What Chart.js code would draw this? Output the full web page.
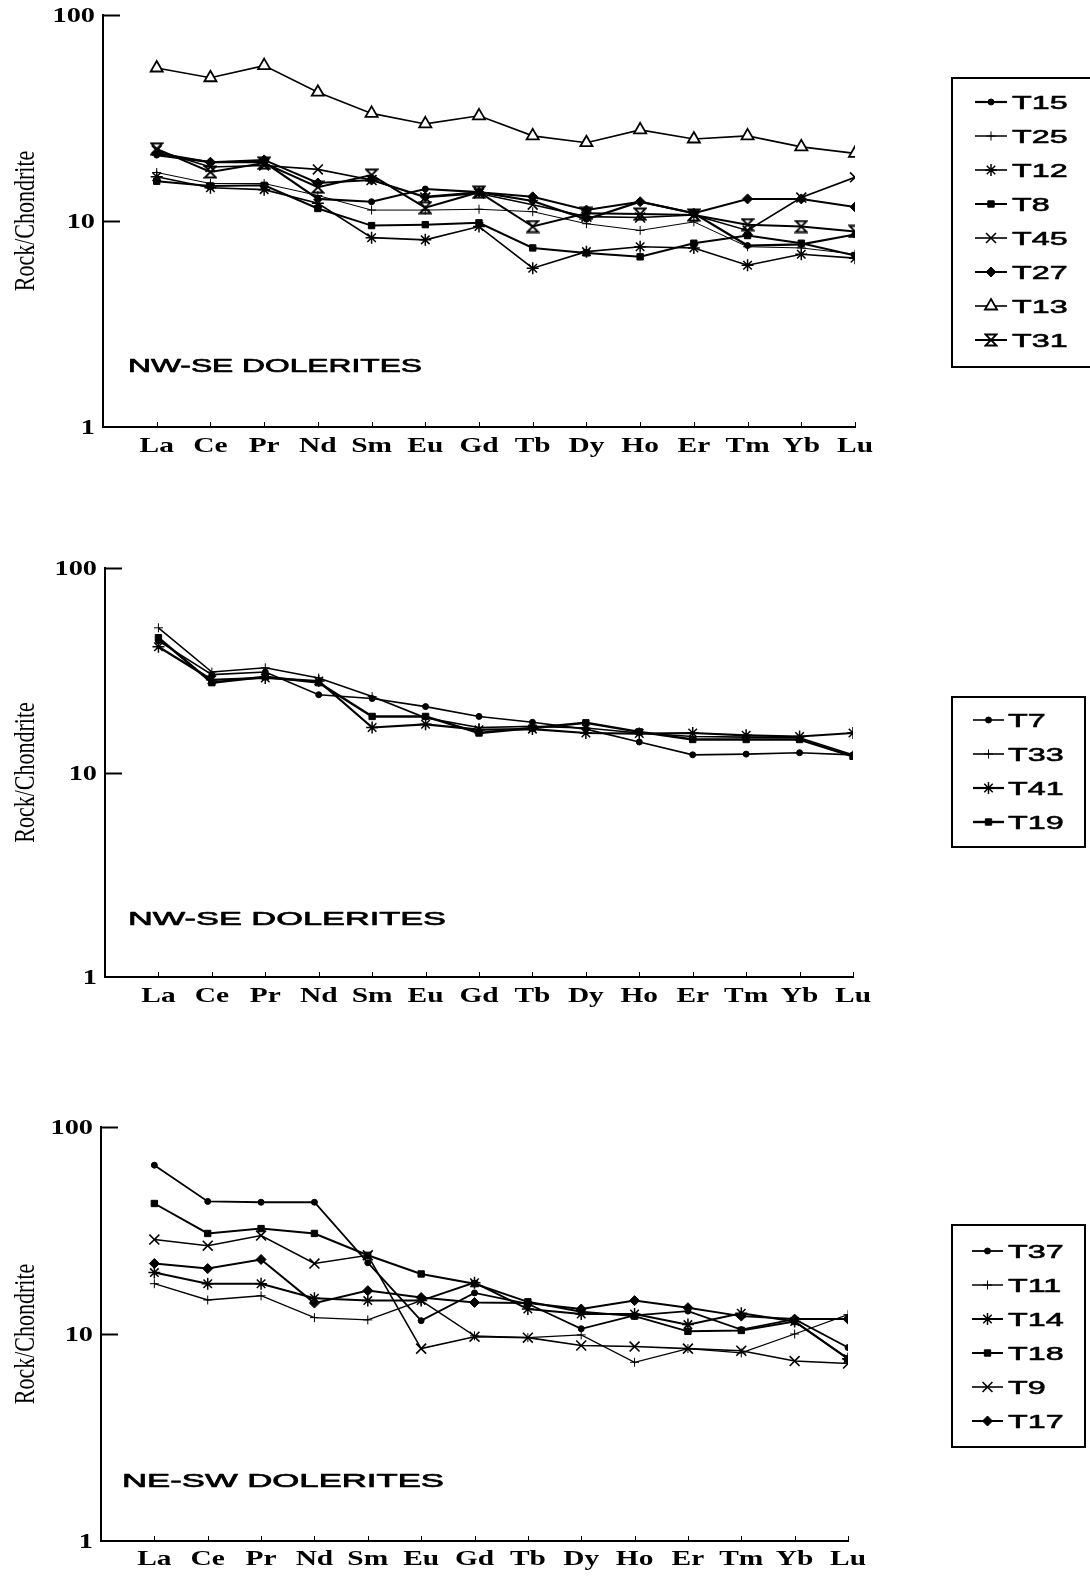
<!DOCTYPE html>
<html><head><meta charset="utf-8">
<script src="https://cdn.jsdelivr.net/npm/chart.js@4.4.1/dist/chart.umd.min.js"></script>
<style>
html,body{margin:0;padding:0;background:#fff;}
body{width:1090px;height:1576px;position:relative;overflow:hidden;}
canvas{position:absolute;left:0;}
</style></head><body>
<canvas id="c1" width="1090" height="480" style="top:0px"></canvas>
<canvas id="c2" width="1090" height="540" style="top:480px"></canvas>
<canvas id="c3" width="1090" height="556" style="top:1020px"></canvas>
<script>
// ---------- data ----------
const ree = ['La','Ce','Pr','Nd','Sm','Eu','Gd','Tb','Dy','Ho','Er','Tm','Yb','Lu'];
const yTickValues = [1, 10, 100];
const yTickLabels = ['1', '10', '100'];
const yTitle = 'Rock/Chondrite';

// panel 1 : NW-SE dolerites
const p1Title = 'NW-SE DOLERITES';
const p1Names = ['T15','T25','T12','T8','T45','T27','T13','T31'];
const T15 = [20.9, 19.3, 19.3, 12.8, 12.4, 14.3, 13.8, 12.5, 10.2, 12.4, 10.9, 7.6, 7.7, 8.6];
const T25 = [17.2, 15.2, 15.2, 13.3, 11.3, 11.3, 11.4, 11.1, 9.7, 9.0, 9.9, 7.5, 7.4, 6.9];
const T12 = [16.4, 14.5, 14.2, 12.2, 8.3, 8.1, 9.4, 5.9, 7.1, 7.5, 7.4, 6.1, 6.9, 6.6];
const T8  = [15.6, 14.8, 14.9, 11.5, 9.5, 9.6, 9.8, 7.4, 7.0, 6.7, 7.8, 8.5, 7.8, 6.8];
const T45 = [22.0, 18.3, 18.6, 17.8, 15.8, 13.0, 13.6, 12.0, 10.5, 10.4, 10.7, 9.0, 13.0, 16.3];
const T27 = [21.4, 19.3, 19.8, 15.3, 15.8, 13.1, 13.8, 13.1, 11.3, 12.4, 10.9, 12.8, 12.8, 11.7];
const T13 = [55.3, 49.6, 56.8, 42.2, 33.3, 29.6, 32.4, 25.9, 24.0, 27.7, 25.0, 25.9, 22.9, 21.3];
const T31 = [22.4, 17.3, 19.1, 14.6, 16.7, 11.6, 13.8, 9.4, 10.9, 10.8, 10.7, 9.6, 9.4, 8.9];

// panel 2 : NW-SE dolerites
const p2Title = 'NW-SE DOLERITES';
const p2Names = ['T7','T33','T41','T19'];
const T7  = [44.0, 30.1, 31.0, 24.0, 23.0, 21.0, 18.8, 17.6, 16.3, 14.1, 12.2, 12.3, 12.5, 12.2];
const T33 = [51.0, 31.0, 32.5, 29.0, 23.5, 18.5, 16.6, 16.8, 16.5, 15.6, 15.0, 14.9, 14.8, 12.2];
const T41 = [41.2, 28.4, 29.0, 28.0, 16.6, 17.2, 16.2, 16.3, 15.6, 15.5, 15.6, 15.2, 15.0, 15.6];
const T19 = [45.6, 27.5, 29.4, 27.5, 18.8, 18.8, 15.6, 16.5, 17.5, 15.8, 14.5, 14.5, 14.5, 12.0];

// panel 3 : NE-SW dolerites
const p3Title = 'NE-SW DOLERITES';
const p3Names = ['T37','T11','T14','T18','T9','T17'];
const T37 = [65.4, 43.7, 43.3, 43.3, 22.1, 11.6, 15.8, 14.0, 10.6, 12.3, 12.9, 10.5, 11.8, 8.6];
const T11 = [17.5, 14.6, 15.3, 12.0, 11.7, 14.5, 9.8, 9.6, 9.9, 7.3, 8.5, 8.1, 10.0, 12.4];
const T14 = [19.8, 17.5, 17.5, 14.9, 14.5, 14.5, 17.7, 13.2, 12.5, 12.5, 11.1, 12.6, 11.5, 7.6];
const T18 = [42.7, 30.6, 32.3, 30.6, 24.0, 19.5, 17.5, 14.3, 12.8, 12.2, 10.3, 10.4, 11.5, 7.6];
const T9  = [28.6, 26.7, 29.9, 21.9, 24.0, 8.5, 9.7, 9.6, 8.8, 8.7, 8.5, 8.3, 7.4, 7.2];
const T17 = [21.9, 20.7, 22.9, 14.1, 16.2, 15.0, 14.2, 14.1, 13.2, 14.5, 13.4, 12.2, 11.8, 11.8];

// ---------- markers / styles ----------
const hourglass = (() => {
  const c = document.createElement('canvas'); c.width = 14; c.height = 14;
  const g = c.getContext('2d'); g.strokeStyle = '#000'; g.lineWidth = 1.8;
  g.beginPath(); g.moveTo(1.5,1.5); g.lineTo(12.5,1.5); g.lineTo(7,7); g.lineTo(12.5,12.5);
  g.lineTo(1.5,12.5); g.lineTo(7,7); g.closePath(); g.stroke();
  return c;
})();
const MK = {
  dot:    {style:'circle',   r:3,   bw:1,   bg:'#000'},
  plus:   {style:'cross',    r:4.5, bw:1,   bg:'#000'},
  star:   {style:'star',     r:6,   bw:1.5, bg:'#000'},
  square: {style:'rect',     r:4.5, bw:1,   bg:'#000'},
  x:      {style:'crossRot', r:7,   bw:1.6, bg:'#000'},
  diamond:{style:'rectRot',  r:5,   bw:1,   bg:'#000'},
  tri:    {style:'triangle', r:7,   bw:1.8, bg:'#fff'},
  hour:   {style:hourglass,  r:7,   bw:1,   bg:'#000'}
};

const panels = [
  { id:'c1', top:0, left:103, right:855, pTop:15, pBottom:427, xLabelBase:452,
    title:p1Title, titleX:128, titleW:294, titleBase:372,
    legend:{x:952, y:78, w:150, h:289, row0:102, step:34, lx0:975, lx1:1007, tx:1012},
    series:[
      {name:p1Names[0], data:T15, mk:'dot',    lw:2.2},
      {name:p1Names[1], data:T25, mk:'plus',   lw:1},
      {name:p1Names[2], data:T12, mk:'star',   lw:1.6},
      {name:p1Names[3], data:T8,  mk:'square', lw:2},
      {name:p1Names[4], data:T45, mk:'x',      lw:1.6},
      {name:p1Names[5], data:T27, mk:'diamond',lw:2},
      {name:p1Names[6], data:T13, mk:'tri',    lw:1.6},
      {name:p1Names[7], data:T31, mk:'hour',   lw:2}
    ]},
  { id:'c2', top:480, left:105, right:853, pTop:568, pBottom:977, xLabelBase:1002,
    title:p2Title, titleX:128, titleW:318, titleBase:925,
    legend:{x:952, y:697, w:133, h:150, row0:720, step:34, lx0:973, lx1:1004, tx:1008},
    series:[
      {name:p2Names[0], data:T7,  mk:'dot',    lw:1.6},
      {name:p2Names[1], data:T33, mk:'plus',   lw:1.6},
      {name:p2Names[2], data:T41, mk:'star',   lw:2.2},
      {name:p2Names[3], data:T19, mk:'square', lw:2.4}
    ]},
  { id:'c3', top:1020, left:101, right:848, pTop:1127, pBottom:1541, xLabelBase:1565,
    title:p3Title, titleX:122, titleW:322, titleBase:1487,
    legend:{x:952, y:1225, w:133, h:222, row0:1251, step:34, lx0:972, lx1:1003, tx:1008},
    series:[
      {name:p3Names[0], data:T37, mk:'dot',    lw:1.8},
      {name:p3Names[1], data:T11, mk:'plus',   lw:1.3},
      {name:p3Names[2], data:T14, mk:'star',   lw:2},
      {name:p3Names[3], data:T18, mk:'square', lw:2},
      {name:p3Names[4], data:T9,  mk:'x',      lw:1.6},
      {name:p3Names[5], data:T17, mk:'diamond',lw:2}
    ]}
];

// ---------- helpers ----------
function stretchText(ctx, text, x, y, font, sx, align, heavy) {
  ctx.save();
  ctx.font = font; ctx.textAlign = 'left'; ctx.textBaseline = 'alphabetic';
  const w = ctx.measureText(text).width * sx;
  let left = x;
  if (align === 'center') left = x - w / 2; else if (align === 'right') left = x - w;
  ctx.translate(left, y); ctx.scale(sx, 1);
  ctx.fillStyle = '#000'; ctx.fillText(text, 0, 0);
  if (heavy) { ctx.strokeStyle = '#000'; ctx.lineWidth = heavy; ctx.lineJoin = 'round'; ctx.strokeText(text, 0, 0); }
  ctx.restore();
}
function fitText(ctx, text, x, y, font, width, heavy) {
  ctx.save(); ctx.font = font;
  const sx = width / ctx.measureText(text).width;
  ctx.restore();
  stretchText(ctx, text, x, y, font, sx, 'left', heavy);
}
function marker(ctx, mk, x, y) {
  const m = MK[mk];
  ctx.save();
  ctx.fillStyle = m.bg; ctx.strokeStyle = '#000'; ctx.lineWidth = m.bw;
  Chart.helpers.drawPoint(ctx, {pointStyle:m.style, radius:m.r, rotation:0, borderWidth:m.bw}, x, y);
  ctx.restore();
}

function makeDecor(P) {
  return {
    id: 'decor_' + P.id,
    afterDraw(chart) {
      const ctx = chart.ctx, xs = chart.scales.x, ys = chart.scales.y, ca = chart.chartArea;
      const off = P.top;
      ctx.save();
      ctx.strokeStyle = '#000'; ctx.lineCap = 'butt';
      // inward y ticks
      ctx.lineWidth = 2;
      [10, 100].forEach(v => {
        const y = Math.round(ys.getPixelForValue(v)) + 0.5;
        ctx.beginPath(); ctx.moveTo(ca.left, y); ctx.lineTo(ca.left + 17, y); ctx.stroke();
      });
      // small x ticks
      ctx.lineWidth = 1;
      ree.forEach((_, i) => {
        const x = Math.round(xs.getPixelForValue(i)) + 0.5;
        ctx.beginPath(); ctx.moveTo(x, ca.bottom); ctx.lineTo(x, ca.bottom - 5); ctx.stroke();
      });
      // y tick labels
      yTickValues.forEach((v, i) => {
        stretchText(ctx, yTickLabels[i], ca.left - 8, ys.getPixelForValue(v) + 7,
          'bold 21px "Liberation Serif"', 1.35, 'right');
      });
      // x tick labels
      ree.forEach((t, i) => {
        stretchText(ctx, t, xs.getPixelForValue(i), P.xLabelBase - off,
          'bold 21px "Liberation Serif"', 1.4, 'center');
      });
      // y title
      ctx.save();
      ctx.translate(26, (ca.top + ca.bottom) / 2);
      ctx.rotate(-Math.PI / 2);
      ctx.scale(1, 1.3);
      ctx.font = '22px "Liberation Serif"'; ctx.textAlign = 'center'; ctx.textBaseline = 'middle';
      ctx.fillStyle = '#000';
      ctx.fillText(yTitle, 0, 0);
      ctx.restore();
      // panel label
      fitText(ctx, P.title, P.titleX, P.titleBase - off, '19px "Liberation Sans"', P.titleW, 0.7);
      // legend
      const L = P.legend;
      ctx.lineWidth = 2; ctx.strokeStyle = '#000';
      ctx.strokeRect(L.x, L.y - off, L.w, L.h);
      P.series.forEach((s, i) => {
        const y = L.row0 + i * L.step - off;
        ctx.lineWidth = Math.max(1.5, s.lw);
        ctx.beginPath(); ctx.moveTo(L.lx0, y); ctx.lineTo(L.lx1, y); ctx.stroke();
        marker(ctx, s.mk, (L.lx0 + L.lx1) / 2, y);
        stretchText(ctx, s.name, L.tx, y + 7, '19px "Liberation Sans"', 1.7, 'left', 0.6);
      });
      ctx.restore();
    }
  };
}

panels.forEach(P => {
  const cv = document.getElementById(P.id);
  const H = cv.height;
  const datasets = P.series.map(s => {
    const m = MK[s.mk];
    return {
      label: s.name,
      data: s.data.map((v, i) => ({x: i, y: v})),
      borderColor: '#000', borderWidth: s.lw, tension: 0, fill: false,
      pointStyle: m.style, pointRadius: m.r, pointHoverRadius: m.r,
      pointBackgroundColor: m.bg, pointBorderColor: '#000', pointBorderWidth: m.bw
    };
  });
  new Chart(cv, {
    type: 'line',
    data: { datasets },
    options: {
      responsive: false, animation: false, devicePixelRatio: 1,
      layout: { padding: { left: 0, top: P.pTop - P.top, right: 1090 - P.right, bottom: 0 }, autoPadding: false },
      plugins: { legend: {display:false}, tooltip: {enabled:false}, title: {display:false} },
      scales: {
        x: { type:'linear', min:-1, max:ree.length - 1,
             ticks:{display:false, stepSize:1}, grid:{display:false},
             border:{display:true, color:'#000', width:2},
             afterFit(sc){ sc.height = H - (P.pBottom - P.top); } },
        y: { type:'logarithmic', min:1, max:100,
             ticks:{display:false}, grid:{display:false},
             border:{display:true, color:'#000', width:2},
             afterFit(sc){ sc.width = P.left; } }
      }
    },
    plugins: [makeDecor(P)]
  });
});
</script>
</body></html>
